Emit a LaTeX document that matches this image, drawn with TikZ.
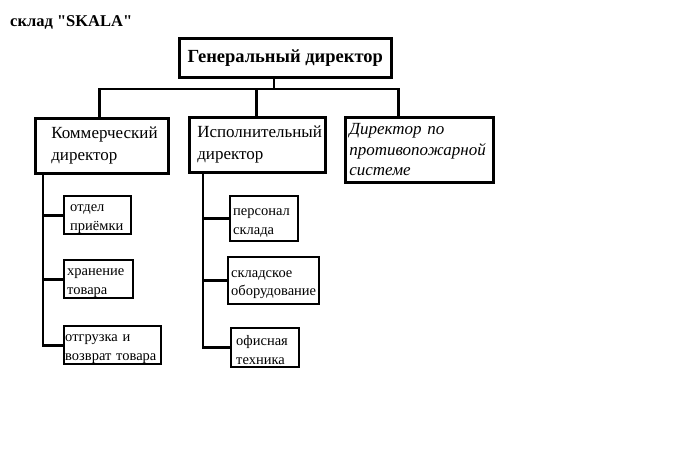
\documentclass[tikz,border=0pt]{standalone}
\usepackage{fontspec}
\setmainfont{Liberation Serif}[Ligatures=TeXOff]
\usetikzlibrary{positioning}

\tikzset{
  unit/.style={draw, line width=2.6pt, anchor=north west, align=left,
    inner ysep=0pt, font=\fontsize{17}{22}\selectfont},
  subunit/.style={unit, line width=2.4pt, inner xsep=3pt,
    font=\fontsize{14.5}{18.5}\selectfont,
    execute at begin node={\rule{0pt}{15pt}}},
  link/.style={line width=2.6pt}
}

\begin{document}
\begin{tikzpicture}[x=1pt,y=-1pt]
  \useasboundingbox (0,0) rectangle (676,475);

  \node[anchor=base west, inner sep=0pt, font=\fontsize{16.5}{19}\selectfont\bfseries]
    (title) at (10,26) {склад "SKALA"};

  \node[unit, align=center, minimum width=212, minimum height=39, inner xsep=2pt,
    font=\fontsize{18.5}{21}\selectfont\bfseries] (gd) at (178,37) {Генеральный директор};

  \node[unit, minimum width=133, minimum height=55, inner xsep=16pt,
    text width=101] (com) at (34,117) {Коммерческий\\директор};
  \node[unit, minimum width=136, minimum height=55, inner xsep=8pt,
    text width=120] (exe) at (188,116) {Исполнительный\\директор};
  \node[unit, minimum width=148, minimum height=65, inner xsep=4pt,
    text width=140, font=\fontsize{17}{20.5}\selectfont\itshape]
    (fire) at (344,116) {Директор по\\противопожарной\\системе};

  % commercial branch
  \node[subunit, minimum width=67, minimum height=38, inner xsep=6pt,
    text width=55] (rcv) at (63,195) {отдел\\приёмки};
  \node[subunit, minimum width=69, minimum height=38,
    text width=63] (store) at (63,259) {хранение\\товара};
  \node[subunit, minimum width=97, minimum height=38, inner xsep=1pt,
    text width=95] (ship) at (63,325) {отгрузка и\\возврат товара};

  % executive branch
  \node[subunit, minimum width=68, minimum height=45,
    text width=62] (staff) at (229,195) {персонал\\склада};
  \node[subunit, minimum width=91, minimum height=47,
    text width=85] (equip) at (227,256) {складское\\оборудование};
  \node[subunit, minimum width=68, minimum height=39, inner xsep=5pt,
    text width=58] (office) at (230,327) {офисная\\техника};

  \coordinate (bus) at (274,89);
  \draw[link] (gd.south -| bus) -- (bus);
  \draw[link] ([xshift=-2.5pt]com.north) |- (bus) -| ([xshift=-21pt]fire.north);
  \draw[link] ([xshift=-1pt]exe.north) -- ([xshift=-1pt]exe.north |- bus);

  \coordinate (ctrunk) at ([xshift=9pt]com.south west);
  \draw[link] (ctrunk) |- (ship.west);
  \draw[link] (rcv.west) -- (rcv.west -| ctrunk);
  \draw[link] (store.west) -- (store.west -| ctrunk);

  \coordinate (etrunk) at ([xshift=15pt]exe.south west);
  \draw[link] (etrunk) |- (office.west);
  \draw[link] (staff.west) -- (staff.west -| etrunk);
  \draw[link] (equip.west) -- (equip.west -| etrunk);
\end{tikzpicture}
\end{document}
